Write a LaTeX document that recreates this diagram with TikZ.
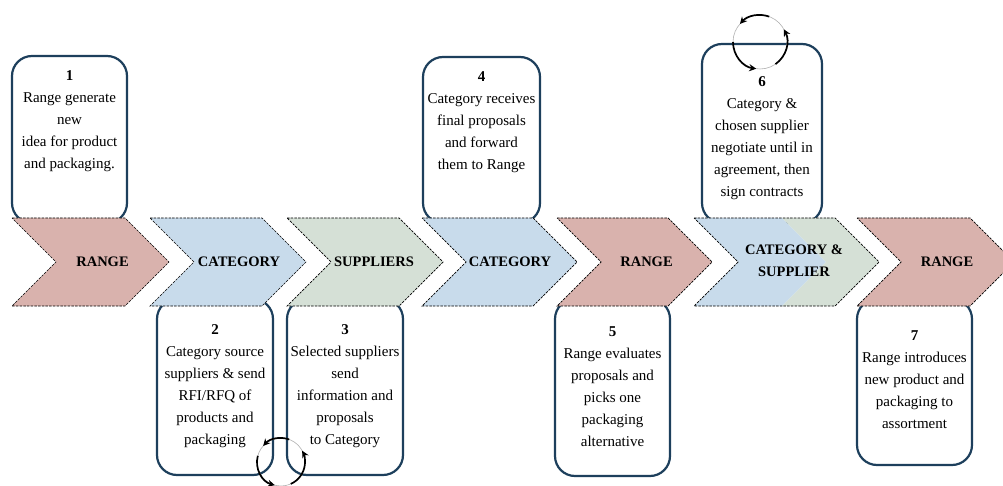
\documentclass[tikz,border=0pt]{standalone}
\usepackage{fontspec}
\setmainfont{Liberation Serif}
\usetikzlibrary{arrows.meta}
\definecolor{rangefill}{RGB}{217,178,173}
\definecolor{catfill}{RGB}{200,219,235}
\definecolor{supfill}{RGB}{213,224,214}
\definecolor{boxblue}{RGB}{29,63,92}
\begin{document}
\begin{tikzpicture}[x=1pt,y=-1pt,
  stepbox/.style={draw=boxblue, line width=2.2pt, rounded corners=20pt, fill=white},
  chevline/.style={draw=black, line width=0.7pt, dash pattern=on 2.5pt off 1.2pt},
  chevlabel/.style={font=\bfseries\fontsize{14.5}{22}\selectfont, align=center, inner sep=0pt},
  boxtext/.style={font=\fontsize{15}{22}\selectfont, align=center, inner sep=0pt},
  cyc/.style={line width=1.7pt, -{Stealth[length=7pt,width=7pt]}},
  cycring/.style={line width=0.6pt, draw=black!30},
]
\useasboundingbox (0,0) rectangle (1003,486);

% ---- step boxes (drawn first, the chevrons overlap their ends) ----
\draw[stepbox] (12,56)   rectangle (127,223);
\draw[stepbox] (423,57)  rectangle (540,223);
\draw[stepbox] (702,44)  rectangle (822,223);
\draw[stepbox] (157,299) rectangle (273,475);
\draw[stepbox] (287,299) rectangle (403,475);
\draw[stepbox] (555,299) rectangle (670,476);
\draw[stepbox] (857,299) rectangle (972,465);

% ---- chevrons: \chev{left}{straight width}{fill} ----
\newcommand{\chev}[3]{%
  \path[chevline, fill=#3] (#1,218) -- ++(#2,0) -- ++(44,44) -- ++(-44,44)
    -- ++(-#2,0) -- ++(44,-44) -- cycle;}
\chev{12}{113}{rangefill}
\chev{150}{112}{catfill}
\chev{287}{112}{supfill}
\chev{422}{111}{catfill}
\chev{557}{111}{rangefill}
% shared chevron: category part and supplier part
\fill[catfill] (694,218) -- (782,218) -- (826,262) -- (782,306) -- (694,306) -- (738,262) -- cycle;
\fill[supfill] (782,218) -- (835,218) -- (879,262) -- (835,306) -- (782,306) -- (826,262) -- cycle;
\draw[chevline] (694,218) -- (835,218) -- (879,262) -- (835,306) -- (694,306) -- (738,262) -- cycle;
\chev{857}{113}{rangefill}

% ---- chevron labels ----
\node[chevlabel] (c1) at (102.5,262) {RANGE};
\node[chevlabel] (c2) at (239,262) {CATEGORY};
\node[chevlabel] (c3) at (374,262) {SUPPLIERS};
\node[chevlabel] (c4) at (510,262) {CATEGORY};
\node[chevlabel] (c5) at (646.5,262) {RANGE};
\node[chevlabel] (c6) at (794,261) {CATEGORY \&\\SUPPLIER};
\node[chevlabel] (c7) at (947,262) {RANGE};

% ---- step texts ----
\node[boxtext] (t1) at (69.5,121.5) {\textbf{1}\\Range generate\\new\\idea for product\\and packaging.};
\node[boxtext] (t4) at (481.5,122) {\textbf{4}\\Category receives\\final proposals\\and forward\\them to Range};
\node[boxtext] (t6) at (762,138) {\textbf{6}\\Category \&\\chosen supplier\\negotiate until in\\agreement, then\\sign contracts};
\node[boxtext] (t2) at (215,386.5) {\textbf{2}\\Category source\\suppliers \& send\\RFI/RFQ of\\products and\\packaging};
\node[boxtext] (t3) at (345,386.5) {\textbf{3}\\Selected suppliers\\send\\information and\\proposals\\to Category};
\node[boxtext] (t5) at (612.5,386.5) {\textbf{5}\\Range evaluates\\proposals and\\picks one\\packaging\\alternative};
\node[boxtext] (t7) at (914.5,380) {\textbf{7}\\Range introduces\\new product and\\packaging to\\assortment};

% ---- iteration cycles ----
\coordinate (cy1) at (760,42);
\draw[cycring] (cy1) circle[radius=27];
\draw[cyc] ([shift={(180:27)}]cy1) arc[start angle=180, end angle=98, radius=27];
\draw[cyc] ([shift={(55:27)}]cy1) arc[start angle=55, end angle=-28, radius=27];
\draw[cyc] ([shift={(-70:27)}]cy1) arc[start angle=-70, end angle=-138, radius=27];

\coordinate (cy2) at (281,462);
\draw[cycring] (cy2) circle[radius=24];
\draw[cyc] ([shift={(195:24)}]cy2) arc[start angle=195, end angle=105, radius=24];
\draw[cyc] ([shift={(66:24)}]cy2) arc[start angle=66, end angle=-28, radius=24];
\draw[cyc] ([shift={(-70:24)}]cy2) arc[start angle=-70, end angle=-138, radius=24];
\end{tikzpicture}
\end{document}
